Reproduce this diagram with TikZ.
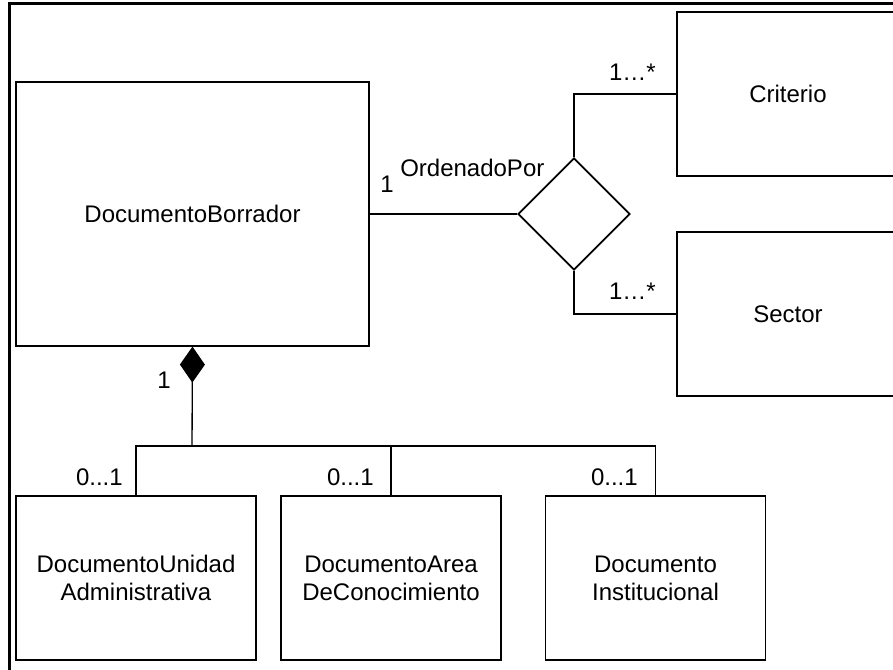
\documentclass[tikz,border=0pt]{standalone}
\usepackage{fontspec}
\setmainfont{Liberation Sans}
\usetikzlibrary{arrows.meta,shapes.geometric}
\tikzset{
  cls/.style={draw, line width=0.9pt, align=center, inner sep=0pt,
    minimum width=165pt, minimum height=123pt},
  rel/.style={draw, diamond, line width=1.3pt, inner sep=0pt,
    minimum width=84pt, minimum height=84pt},
  link/.style={line width=1pt},
  comp/.style={link, -{Diamond[length=27pt, width=18.75pt, fill=black]}},
  mult/.style={inner sep=0pt},
  frame/.style={line width=1.8pt},
}
\begin{document}
\begin{tikzpicture}[x=0.75pt, y=-0.75pt, font={\fontsize{18}{21}\selectfont}]
    \useasboundingbox (0,0) rectangle (893,670);
    \clip (0,0) rectangle (893,670);
    \draw[frame] (9.5,3.5) rectangle (930,700);
    \node[cls, minimum width=264.75pt, minimum height=198pt] (borr) at (192.5,214) {DocumentoBorrador};
    \node[cls, minimum width=166.5pt] (crit) at (788,94) {Criterio};
    \node[cls, minimum width=166.5pt] (sect) at (788,314) {Sector};
    \node[rel] (ord) at (574,214) {};
    \node[cls, minimum width=180pt] (unidad) at (136,578) {DocumentoUnidad\\Administrativa};
    \node[cls] (area) at (391,578) {DocumentoArea\\DeConocimiento};
    \node[cls] (inst) at (655.5,578) {Documento\\Institucional};
    \coordinate (bus) at (192,446);
    \draw[link] (borr.east) -- (ord.west);
    \draw[link] (ord.north) |- (crit.west);
    \draw[link] (ord.south) |- (sect.west);
    \draw[comp] (bus) -- (borr.south);
    \draw[link] (unidad.north) |- (bus) -| (inst.north);
    \draw[link] (area.north) -- (area.north |- bus);
    \node[mult, anchor=base east] (mBorr) at (394,193) {1};
    \node[mult, anchor=base west] (ordLbl) at (400,177) {OrdenadoPor};
    \node[mult, anchor=base east] (mCrit) at (656,81) {1…*};
    \node[mult, anchor=base east] (mSect) at (656,300) {1…*};
    \node[mult, anchor=base east] (mComp) at (171,388) {1};
    \node[mult, anchor=base east] (mUnidad) at (123,485) {0...1};
    \node[mult, anchor=base east] (mArea) at (374,485) {0...1};
    \node[mult, anchor=base east] (mInst) at (638,485) {0...1};
\end{tikzpicture}
\end{document}
